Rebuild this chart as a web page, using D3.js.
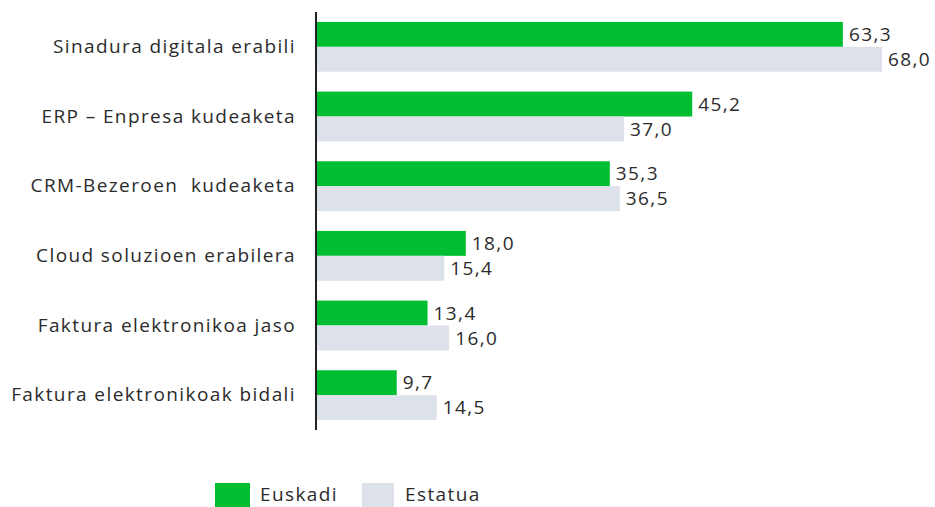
<!DOCTYPE html>
<html><head><meta charset="utf-8">
<script src="https://cdn.jsdelivr.net/npm/d3@7/dist/d3.min.js"></script>
<style>body{margin:0;background:#fff}svg{display:block}</style>
</head><body><svg id="c" width="935" height="507"></svg>
<script>
const categories = ["Sinadura digitala erabili","ERP – Enpresa kudeaketa","CRM-Bezeroen  kudeaketa","Cloud soluzioen erabilera","Faktura elektronikoa jaso","Faktura elektronikoak bidali"];
const seriesNames = ["Euskadi","Estatua"];
const euskadi = [63.3,45.2,35.3,18.0,13.4,9.7];
const estatua = [68.0,37.0,36.5,15.4,16.0,14.5];
const colors = ["#00be32","#dce1ea"];

const svg = d3.select("#c");
const font = "'Open Sans', sans-serif";
const fs = 19, ls = "1.4px", tc = "#2b2b2b";
const x = d3.scaleLinear().domain([0,68]).range([316,882]);
const y = d3.scaleBand().domain(categories).range([12,430]).paddingInner(0.285).paddingOuter(0.1425);
const sub = d3.scaleBand().domain(seriesNames).range([0,y.bandwidth()]);
const data = categories.map((c,i)=>({c, vals:[euskadi[i],estatua[i]]}));
const fmt = v => v.toFixed(1).replace(".",",");

const g = svg.selectAll("g.cat").data(data).join("g").attr("transform",d=>`translate(0,${y(d.c)})`);
g.selectAll("rect").data(d=>d.vals.map((v,j)=>({v,s:seriesNames[j],j}))).join("rect")
 .attr("x",x(0)).attr("y",d=>sub(d.s)).attr("width",d=>x(d.v)-x(0)).attr("height",sub.bandwidth())
 .attr("fill",d=>colors[d.j]);
g.selectAll("text.v").data(d=>d.vals.map((v,j)=>({v,s:seriesNames[j]}))).join("text").attr("class","v")
 .attr("x",d=>x(d.v)+6).attr("y",d=>sub(d.s)+sub.bandwidth()/2).attr("dy","0.35em")
 .attr("font-family",font).attr("font-size",fs).attr("letter-spacing",ls).attr("fill",tc).text(d=>fmt(d.v));

const ax = svg.append("g").attr("transform",`translate(${x(0)},0)`).call(d3.axisLeft(y).tickSize(0).tickPadding(20));
ax.select(".domain").attr("stroke","#222").attr("stroke-width",2).attr("d",`M0,12V430`);
ax.selectAll("text").attr("font-family",font).attr("font-size",fs).attr("letter-spacing",ls).attr("fill",tc).style("white-space","pre");

const lg = svg.append("g");
const lx = [215,362];
seriesNames.forEach((s,i)=>{
  lg.append("rect").attr("x",lx[i]).attr("y",483).attr("width",i?32:35).attr("height",24).attr("fill",colors[i]);
  lg.append("text").attr("x",lx[i]+(i?43:45)).attr("y",501).attr("font-family",font).attr("font-size",fs).attr("letter-spacing",ls).attr("fill",tc).text(s);
});
</script></body></html>
